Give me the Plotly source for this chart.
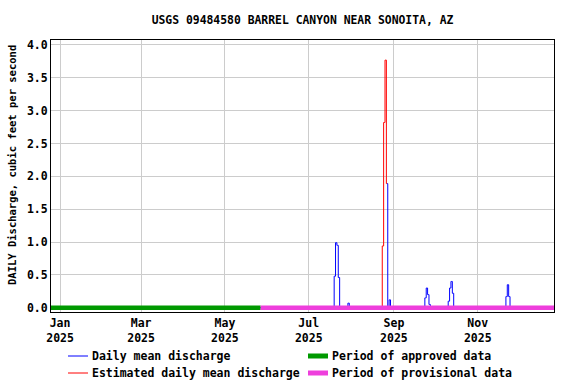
import plotly.graph_objects as go

# ---- data ----
blue_dates = ["2025-01-01", "2025-07-19", "2025-07-20", "2025-07-21", "2025-07-22", "2025-07-23",
              "2025-07-24", "2025-07-29", "2025-07-30", "2025-07-31", "2025-08-23",
              "2025-08-24", "2025-08-25", "2025-08-26",
              "2025-08-27", "2025-08-28", "2025-08-29", "2025-08-30",
              "2025-09-23", "2025-09-24", "2025-09-25", "2025-09-26", "2025-09-27", "2025-09-28",
              "2025-10-10", "2025-10-11", "2025-10-12", "2025-10-13", "2025-10-14", "2025-10-15",
              "2025-11-21", "2025-11-22", "2025-11-23", "2025-11-24", "2025-11-25", "2025-12-25"]
blue_values = [0, 0, 0.48, 0.99, 0.95, 0.46,
               0, 0, 0.07, 0, 0,
               None, None, None,
               1.89, 0, 0.12, 0,
               0, 0.15, 0.30, 0.20, 0.05, 0,
               0, 0.10, 0.30, 0.40, 0.22, 0,
               0, 0.17, 0.35, 0.17, 0, 0]

red_dates = ["2025-08-23", "2025-08-24", "2025-08-25", "2025-08-26", "2025-08-27"]
red_values = [0, 0.94, 2.82, 3.77, 1.89]

approved_dates = ["2024-12-25", "2025-05-27"]
provisional_dates = ["2025-05-27", "2025-12-27"]

x_tickvals = ["2025-01-01", "2025-03-01", "2025-05-01", "2025-07-01", "2025-09-01", "2025-11-01"]
x_ticktext = ["Jan<br>2025", "Mar<br>2025", "May<br>2025", "Jul<br>2025", "Sep<br>2025", "Nov<br>2025"]
y_tickvals = [0, 0.5, 1.0, 1.5, 2.0, 2.5, 3.0, 3.5, 4.0]

legend_names = ["Daily mean discharge", "Estimated daily mean discharge",
                "Period of approved data", "Period of provisional data"]
BLUE, RED, GREEN, MAGENTA = "#0000ff", "#ff0000", "#009900", "#ee3fdc"

FONT = "DejaVu Sans Mono"

fig = go.Figure()
fig.add_trace(go.Scatter(x=blue_dates, y=blue_values, mode="lines", name=legend_names[0],
                         line=dict(color=BLUE, width=1, shape="hvh")))
fig.add_trace(go.Scatter(x=red_dates, y=red_values, mode="lines", name=legend_names[1],
                         line=dict(color=RED, width=1, shape="hvh")))
fig.add_trace(go.Scatter(x=approved_dates, y=[0, 0], mode="lines", name=legend_names[2],
                         line=dict(color=GREEN, width=4.5), cliponaxis=False))
fig.add_trace(go.Scatter(x=provisional_dates, y=[0, 0], mode="lines", name=legend_names[3],
                         line=dict(color=MAGENTA, width=4.5)))

# manual legend (paper coordinates), two columns
L, R, T, B = 51, 22, 40, 72
PW, PH = 576 - L - R, 384 - T - B
def px(x):
    return (x - L) / PW
def py(y):
    return (384 - B - y) / PH

legend_items = [
    (legend_names[0], BLUE, 1, 68, 356),
    (legend_names[1], RED, 1, 68, 373),
    (legend_names[2], GREEN, 5, 308, 356),
    (legend_names[3], MAGENTA, 5, 308, 373),
]
for name, color, w, x0, y0 in legend_items:
    fig.add_shape(type="line", xref="paper", yref="paper", x0=px(x0), x1=px(x0 + 20),
                  y0=py(y0), y1=py(y0), line=dict(color=color, width=w))
    fig.add_annotation(xref="paper", yref="paper", x=px(x0 + 22), y=py(y0), text="<b>" + name + "</b>",
                       showarrow=False, xanchor="left", yanchor="middle",
                       font=dict(family=FONT, size=11.5, color="black"))

# y-axis title as a rotated annotation
fig.add_annotation(xref="paper", yref="paper", x=px(12), y=py(165),
                   text="<b>DAILY Discharge, cubic feet per second</b>", textangle=-90,
                   showarrow=False, xanchor="center", yanchor="middle",
                   font=dict(family=FONT, size=10.5, color="black"))

fig.update_layout(
    width=576, height=384,
    margin=dict(l=L, r=R, t=T, b=B),
    paper_bgcolor="white", plot_bgcolor="white",
    font=dict(family=FONT, size=11, color="black"),
    title=dict(text="<b>USGS 09484580 BARREL CANYON NEAR SONOITA, AZ</b>", x=0.5, xref="paper",
               xanchor="center", y=1 - 20 / 384, yanchor="middle", font=dict(family=FONT, size=11.4)),
    showlegend=False,
    xaxis=dict(type="date", range=["2024-12-25 10:00", "2025-12-26 12:00"],
               tickvals=x_tickvals, ticktext=["<b>" + t.replace("<br>", "</b><br><b>") + "</b>" for t in x_ticktext],
               ticks="", automargin=False,
               showgrid=True, gridcolor="#cccccc", gridwidth=1,
               showline=True, linecolor="black", linewidth=1, mirror=True,
               tickfont=dict(family=FONT, size=11.5)),
    yaxis=dict(range=[-0.065, 4.076], tickvals=y_tickvals,
               ticktext=["<b>%.1f</b>" % v for v in y_tickvals], ticks="", automargin=False,
               showgrid=True, gridcolor="#cccccc", gridwidth=1, zeroline=False,
               showline=True, linecolor="black", linewidth=1, mirror=True,
               tickfont=dict(family=FONT, size=11.5)),
)

fig.write_html("out.html", config={"displayModeBar": False},
               post_script="document.body.style.margin='0';document.body.style.padding='0';")
